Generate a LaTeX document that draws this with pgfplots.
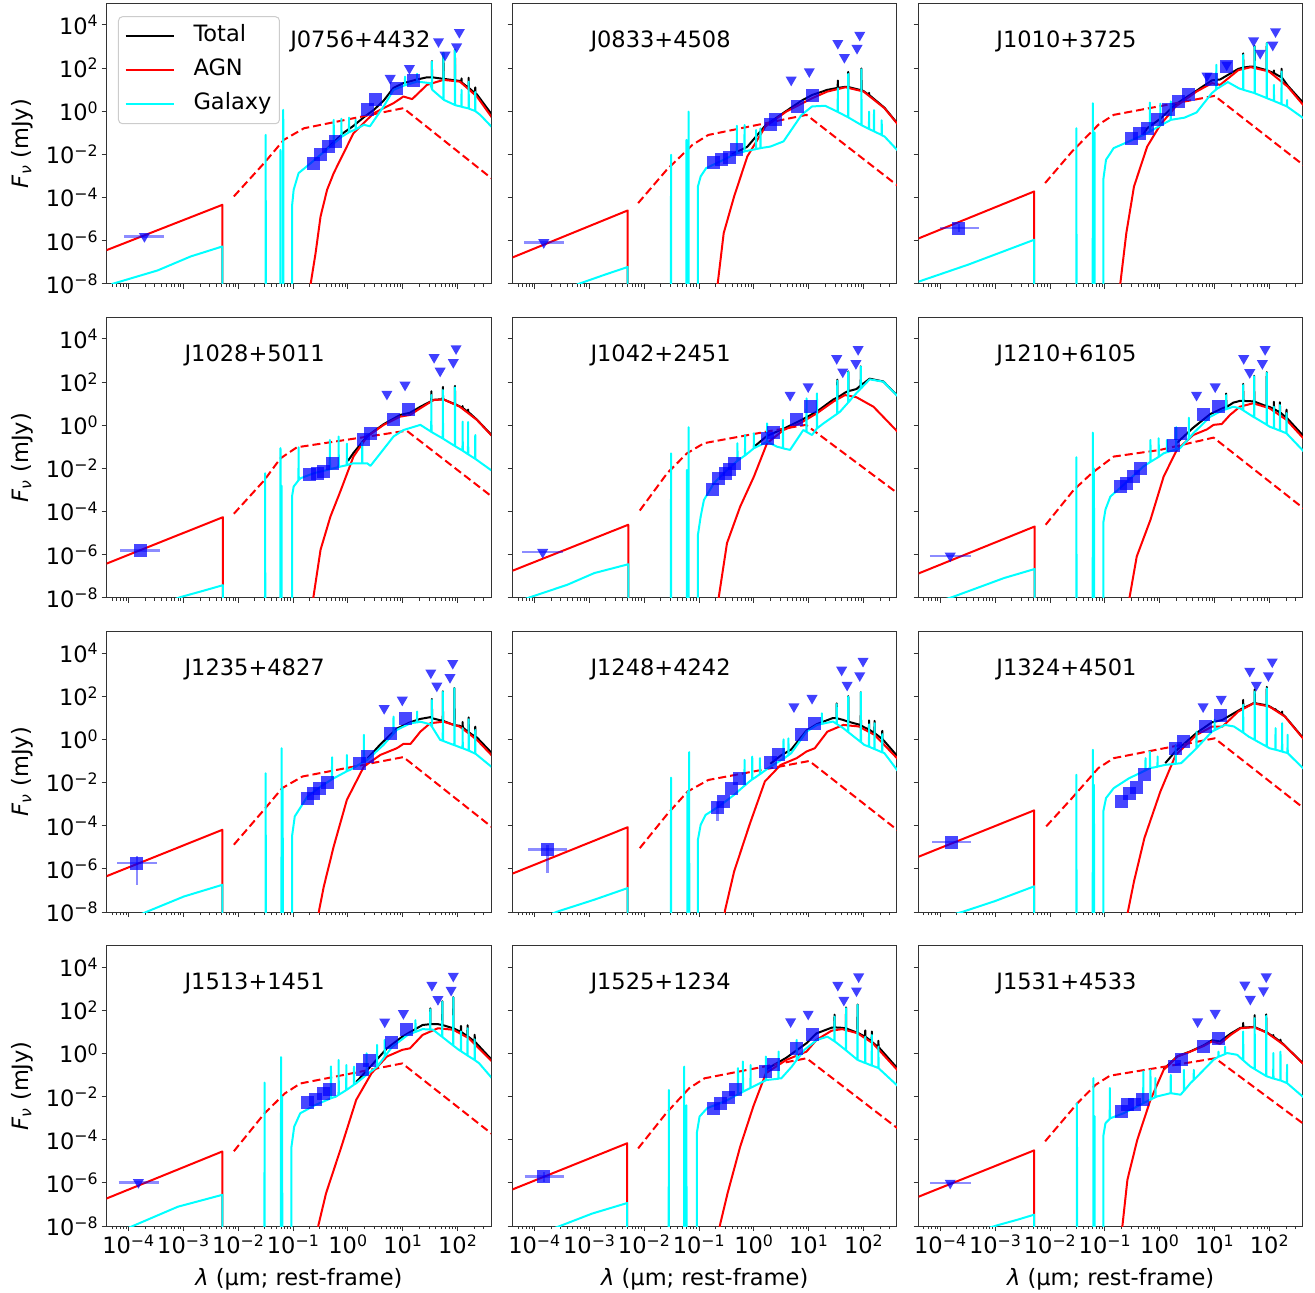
\documentclass[border=0pt]{standalone}
\usepackage{fontspec}
\setmainfont{DejaVu Sans}
\usepackage{pgfplots}
\pgfplotsset{compat=1.18}
\definecolor{mcyan}{RGB}{0,255,255}
\definecolor{mred}{RGB}{255,0,0}
\definecolor{mblue}{RGB}{0,0,255}
\tikzset{
 tot/.style={black, line width=2bp, line join=round},
 agn/.style={mred, line width=2bp, line join=round},
 gal/.style={mcyan, line width=2bp, line join=round},
 agnd/.style={mred, line width=2bp, dash pattern=on 8bp off 4bp},
 sq/.style={only marks, mark=square*, mark size=6.5bp, color=mblue, mark options={draw opacity=0, fill opacity=0.72}},
 tri/.style={only marks, mark=triangle*, mark size=6.4bp, color=mblue, mark options={rotate=180, draw opacity=0, fill opacity=0.75}},
 xb/.style={color=mblue, opacity=0.45, line width=2.5bp},
}
\pgfplotsset{
 panel/.style={scale only axis, width=384.3bp, height=280.5bp, anchor=north west,
  xmin=-4.398, xmax=2.607, ymin=-8, ymax=5,
  axis line style={black!80, line width=1bp},
  tick align=outside, xtick pos=bottom, ytick pos=left,
  xtick={-4,...,2}, ytick={-8,-6,...,4},
  minor xtick={-4.301,-4.222,-4.155,-4.097,-4.046,-3.699,-3.523,-3.398,-3.301,-3.222,-3.155,-3.097,-3.046,-2.699,-2.523,-2.398,-2.301,-2.222,-2.155,-2.097,-2.046,-1.699,-1.523,-1.398,-1.301,-1.222,-1.155,-1.097,-1.046,-0.699,-0.523,-0.398,-0.301,-0.222,-0.155,-0.097,-0.046,0.301,0.477,0.602,0.699,0.778,0.845,0.903,0.954,1.301,1.477,1.602,1.699,1.778,1.845,1.903,1.954,2.301,2.477},
  major tick length=5bp, minor tick length=3bp,
  every major tick/.style={black!80, line width=1bp},
  every minor tick/.style={black!80, line width=0.8bp},
  xticklabels={}, yticklabels={},
  clip mode=individual,
 },
 ylab/.style={yticklabels={10\textsuperscript{−8},10\textsuperscript{−6},10\textsuperscript{−4},10\textsuperscript{−2},10\textsuperscript{0},10\textsuperscript{2},10\textsuperscript{4}},
  ylabel={\textit{F}\textsubscript{\textit{ν}} (mJy)}, ylabel style={at={(axis description cs:-0.220,0.5)}, anchor=center}},
 xlab/.style={xticklabels={10\textsuperscript{−4},10\textsuperscript{−3},10\textsuperscript{−2},10\textsuperscript{−1},10\textsuperscript{0},10\textsuperscript{1},10\textsuperscript{2}},
  xlabel={\textit{λ} (µm; rest-frame)}, xlabel style={at={(axis description cs:0.5,-0.188)}, anchor=center}},
}
\begin{document}
\begin{tikzpicture}[font=\fontsize{22.6}{27}\selectfont]
\path[use as bounding box] (0,0) rectangle (1315bp,-1293bp);
% ---------------- Panel 1: J0756+4432
\begin{axis}[panel, ylab, at={(106.7bp,-3.3bp)},
 legend style={at={(axis description cs:0.0294,0.954)}, anchor=north west, draw=black!20, line width=1bp, rounded corners=4bp, fill=white, fill opacity=0.8, draw opacity=1, text opacity=1, inner xsep=6bp, inner ysep=7bp, row sep=9bp, nodes={inner sep=2bp, text height=16bp, text depth=5bp}, /tikz/every odd column/.append style={column sep=17bp}},
 legend cell align=left,
 legend image code/.code={\draw[#1] (0bp,0bp) -- (48bp,0bp);}]
\addlegendimage{tot}\addlegendentry{Total}
\addlegendimage{agn}\addlegendentry{AGN}
\addlegendimage{gal}\addlegendentry{Galaxy}
\addplot[tot] coordinates {(-0.40,-1.78)(-0.08,-1.00)(0.10,-0.68)(0.29,-0.28)(0.47,0.06)(0.65,0.49)(0.83,1.08)(1.01,1.30)(1.26,1.47)(1.44,1.57)(1.527,1.57)(1.53,2.32)(1.533,1.57)(1.737,1.50)(1.74,2.70)(1.743,1.50)(1.947,1.43)(1.95,2.85)(1.953,1.43)(2.04,1.40)(2.067,1.33)(2.07,1.52)(2.073,1.33)(2.197,1.08)(2.20,1.55)(2.203,1.08)(2.317,0.83)(2.32,1.10)(2.323,0.83)(2.35,0.78)(2.62,-0.15)};
\addplot[agn] coordinates {(-4.42,-6.46)(-2.29,-4.34)(-2.29,-9)};
\addplot[agn] coordinates {(-0.70,-9)(-0.68,-8)(-0.59,-6.57)(-0.50,-4.88)(-0.38,-3.64)(-0.26,-2.87)(0.10,-1.02)(0.47,-0.09)(0.83,0.37)(1.01,0.68)(1.17,0.56)(1.44,1.22)(1.74,1.45)(2.04,1.37)(2.35,0.68)(2.62,-0.28)};
\addplot[agnd] coordinates {(-2.08,-3.95)(-1.53,-2.41)(-1.17,-1.33)(-0.80,-0.79)(1.01,0.14)(2.62,-3.12)};
\addplot[gal] coordinates {(-4.42,-8.3)(-4.29,-8.0)(-3.47,-7.38)(-2.865,-6.73)(-2.29,-6.27)(-2.29,-9)};
\addplot[gal] coordinates {(-1.503,-9)(-1.50,-1.10)(-1.497,-9)(-1.233,-9)(-1.23,-1.79)(-1.227,-9)(-1.183,-9)(-1.18,0.06)(-1.177,-9)(-1.02,-9)(-1.02,-4.41)(-0.99,-3.64)(-0.90,-2.87)(-0.68,-2.41)(-0.40,-1.80)(-0.263,-1.50)(-0.26,-0.40)(-0.257,-1.49)(-0.123,-1.20)(-0.12,-0.35)(-0.117,-1.19)(0.017,-0.98)(0.02,-0.30)(0.023,-0.97)(0.137,-0.85)(0.14,-0.40)(0.143,-0.84)(0.29,-0.63)(0.40,-0.70)(0.65,0.22)(0.83,0.99)(1.037,1.20)(1.04,1.60)(1.043,1.20)(1.257,1.37)(1.26,1.73)(1.263,1.37)(1.50,1.30)(1.527,1.05)(1.53,2.30)(1.533,1.0)(1.737,0.55)(1.74,2.69)(1.743,0.53)(1.947,0.29)(1.95,2.84)(1.953,0.28)(2.067,0.21)(2.07,0.99)(2.073,0.20)(2.197,0.13)(2.20,1.37)(2.203,0.12)(2.317,0.01)(2.32,0.90)(2.323,0.00)(2.41,-0.17)(2.62,-0.73)};
\addplot[xb] coordinates {(-4.08,-5.80)(-3.35,-5.80)};
\addplot[tri] coordinates {(-3.71,-5.80)};
\addplot[sq] coordinates {(-0.62,-2.41)(-0.50,-2.02)(-0.35,-1.64)(-0.23,-1.40)(0.35,0.06)(0.50,0.52)(0.89,1.06)(1.20,1.44)};
\addplot[tri] coordinates {(0.77,1.53)(1.12,1.99)(1.65,3.23)(1.77,2.61)(1.98,2.99)(2.03,3.66)};
\node[anchor=base] at (rel axis cs:0.660,0.842) {J0756+4432};
\end{axis}
% ---------------- Panel 2: J0833+4508
\begin{axis}[panel, at={(512.6bp,-3.3bp)}]
\addplot[tot] coordinates {(-0.40,-2.0)(-0.12,-1.65)(0.21,-0.66)(0.59,0.01)(0.87,0.49)(1.06,0.75)(1.34,0.99)(1.527,1.08)(1.53,1.42)(1.533,1.08)(1.67,1.13)(1.717,1.12)(1.72,1.82)(1.723,1.12)(1.957,0.97)(1.96,1.98)(1.963,0.97)(2.00,0.93)(2.097,0.75)(2.10,0.85)(2.103,0.75)(2.38,0.16)(2.62,-0.58)};
\addplot[agn] coordinates {(-4.42,-6.80)(-2.30,-4.60)(-2.30,-9)};
\addplot[agn] coordinates {(-0.68,-9)(-0.66,-8)(-0.55,-5.65)(-0.36,-3.95)(-0.12,-2.10)(0.21,-0.71)(0.59,-0.02)(1.06,0.60)(1.34,0.91)(1.67,1.11)(2.00,0.91)(2.38,0.14)(2.62,-0.60)};
\addplot[agnd] coordinates {(-2.11,-4.26)(-1.59,-2.72)(-1.12,-1.56)(-0.83,-1.10)(0.96,-0.17)(2.62,-3.45)};
\addplot[gal] coordinates {(-3.40,-8.25)(-3.19,-8.0)(-2.72,-7.58)(-2.30,-7.22)(-2.30,-9)};
\addplot[gal] coordinates {(-1.513,-9)(-1.51,-2.02)(-1.507,-9)(-1.233,-9)(-1.23,-1.33)(-1.227,-9)(-1.193,-9)(-1.19,-0.02)(-1.187,-9)(-1.02,-9)(-1.02,-3.49)(-0.97,-3.02)(-0.87,-2.64)(-0.55,-2.25)(-0.40,-2.06)(-0.313,-1.96)(-0.31,-0.68)(-0.307,-1.95)(-0.173,-1.87)(-0.17,-0.64)(-0.167,-1.86)(0.037,-1.76)(0.04,-0.87)(0.043,-1.75)(0.117,-1.72)(0.12,-0.80)(0.123,-1.71)(0.30,-1.64)(0.54,-1.40)(0.87,-0.17)(1.06,0.22)(1.30,0.25)(1.527,-0.03)(1.53,1.06)(1.533,-0.04)(1.717,-0.28)(1.72,1.73)(1.723,-0.29)(1.957,-0.64)(1.96,1.94)(1.963,-0.65)(2.097,-0.82)(2.10,-0.02)(2.103,-0.83)(2.187,-0.93)(2.19,0.05)(2.193,-0.94)(2.327,-1.10)(2.33,-0.42)(2.333,-1.12)(2.38,-1.17)(2.62,-1.82)};
\addplot[xb] coordinates {(-4.19,-6.08)(-3.46,-6.08)};
\addplot[tri] coordinates {(-3.83,-6.08)};
\addplot[sq] coordinates {(-0.74,-2.38)(-0.59,-2.25)(-0.45,-2.13)(-0.31,-1.79)(0.30,-0.63)(0.40,-0.37)(0.79,0.22)(1.06,0.71)};
\addplot[tri] coordinates {(0.68,1.45)(1.01,1.84)(1.53,3.15)(1.65,2.50)(1.88,2.92)(1.93,3.53)};
\node[anchor=base] at (rel axis cs:0.385,0.842) {J0833+4508};
\end{axis}
% ---------------- Panel 3: J1010+3725
\begin{axis}[panel, at={(918.5bp,-3.3bp)}]
\addplot[tot] coordinates {(-0.30,-1.08)(-0.23,-0.79)(0.01,-0.35)(0.29,0.32)(0.67,0.95)(0.95,1.43)(1.10,1.47)(1.43,1.96)(1.517,2.02)(1.52,2.68)(1.523,2.02)(1.66,2.07)(1.727,2.05)(1.73,3.02)(1.733,2.05)(1.947,1.90)(1.95,3.16)(1.953,1.90)(1.99,1.86)(2.077,1.76)(2.08,1.89)(2.083,1.76)(2.217,1.57)(2.22,1.97)(2.223,1.57)(2.33,1.19)(2.62,0.37)};
\addplot[agn] coordinates {(-4.42,-5.92)(-2.29,-3.72)(-2.29,-9)};
\addplot[agn] coordinates {(-0.74,-9)(-0.72,-8)(-0.61,-5.65)(-0.47,-3.49)(-0.23,-1.64)(0.01,-0.63)(0.29,0.22)(0.67,0.91)(0.95,1.30)(1.10,1.22)(1.43,1.90)(1.66,2.04)(1.99,1.84)(2.33,1.14)(2.62,0.27)};
\addplot[agnd] coordinates {(-2.09,-3.33)(-1.60,-1.87)(-1.12,-0.63)(-0.84,-0.17)(1.00,0.71)(2.62,-2.50)};
\addplot[gal] coordinates {(-4.42,-7.92)(-3.49,-7.11)(-2.29,-5.96)(-2.29,-9)};
\addplot[gal] coordinates {(-1.523,-9)(-1.52,-0.79)(-1.517,-9)(-1.223,-9)(-1.22,0.37)(-1.217,-9)(-1.193,-9)(-1.19,-0.98)(-1.187,-9)(-1.03,-9)(-1.03,-3.18)(-0.98,-2.25)(-0.84,-1.71)(-0.56,-1.40)(-0.30,-1.10)(-0.183,-0.95)(-0.18,0.40)(-0.177,-0.94)(0.007,-0.67)(0.01,0.35)(0.013,-0.66)(0.197,-0.41)(0.20,0.45)(0.203,-0.40)(0.45,-0.30)(0.67,-0.06)(0.95,0.84)(1.027,1.00)(1.03,2.15)(1.033,1.02)(1.24,1.35)(1.45,1.05)(1.517,1.00)(1.52,2.61)(1.523,0.99)(1.727,0.84)(1.73,3.00)(1.733,0.83)(1.947,0.61)(1.95,3.15)(1.953,0.60)(2.077,0.48)(2.08,1.22)(2.083,0.47)(2.217,0.33)(2.22,1.84)(2.223,0.32)(2.317,0.22)(2.32,0.52)(2.323,0.21)(2.62,-0.33)};
\addplot[xb] coordinates {(-4.01,-5.42)(-3.30,-5.42)};
\addplot[xb] coordinates {(-3.66,-5.25)(-3.66,-5.62)};
\addplot[sq] coordinates {(-3.66,-5.42)};
\addplot[sq] coordinates {(-0.51,-1.25)(-0.37,-1.02)(-0.23,-0.79)(-0.04,-0.40)(0.15,0.06)(0.34,0.45)(0.53,0.76)(0.95,1.46)(1.22,2.08)};
\addplot[tri] coordinates {(0.86,1.64)(1.22,2.15)(1.71,3.27)(1.83,2.69)(2.06,3.07)(2.11,3.69)};
\node[anchor=base] at (rel axis cs:0.385,0.842) {J1010+3725};
\end{axis}
% ---------------- Panel 4: J1028+5011
\begin{axis}[panel, ylab, at={(106.7bp,-317.4bp)}]
\addplot[tot] coordinates {(0.00,-1.65)(0.10,-1.28)(0.35,-0.50)(0.65,0.05)(0.95,0.48)(1.13,0.58)(1.32,0.86)(1.517,1.12)(1.52,1.58)(1.523,1.12)(1.56,1.18)(1.727,1.21)(1.73,1.78)(1.733,1.21)(1.947,0.98)(1.95,1.83)(1.953,0.98)(2.04,0.87)(2.087,0.80)(2.09,0.89)(2.093,0.80)(2.187,0.62)(2.19,0.73)(2.193,0.62)(2.35,0.26)(2.62,-0.46)};
\addplot[agn] coordinates {(-4.42,-6.43)(-2.28,-4.26)(-2.28,-9)};
\addplot[agn] coordinates {(-0.65,-9)(-0.63,-7.96)(-0.50,-5.77)(-0.32,-4.23)(-0.14,-3.07)(0.10,-1.45)(0.35,-0.52)(0.65,0.02)(0.95,0.40)(1.13,0.48)(1.32,0.79)(1.56,1.17)(1.74,1.20)(2.04,0.86)(2.35,0.25)(2.62,-0.48)};
\addplot[agnd] coordinates {(-2.08,-4.10)(-1.53,-2.56)(-1.23,-1.53)(-0.93,-1.02)(1.07,-0.25)(2.62,-3.30)};
\addplot[gal] coordinates {(-3.30,-8.2)(-3.05,-7.96)(-2.68,-7.70)(-2.28,-7.41)(-2.28,-9)};
\addplot[gal] coordinates {(-1.513,-9)(-1.51,-2.22)(-1.507,-9)(-1.233,-9)(-1.23,-1.06)(-1.227,-9)(-1.213,-9)(-1.21,-2.80)(-1.207,-9)(-1.02,-9)(-1.02,-3.30)(-0.99,-2.84)(-0.903,-2.55)(-0.90,-1.02)(-0.897,-2.53)(-0.86,-2.45)(-0.62,-2.22)(-0.333,-2.04)(-0.33,-0.68)(-0.327,-2.03)(-0.173,-1.94)(-0.17,-0.52)(-0.167,-1.93)(-0.023,-1.85)(-0.02,-0.85)(-0.017,-1.84)(0.10,-1.76)(0.257,-1.76)(0.26,-0.80)(0.263,-1.76)(0.35,-1.76)(0.41,-1.88)(0.59,-1.30)(0.83,-0.52)(1.01,-0.22)(1.32,0.02)(1.517,-0.30)(1.52,1.40)(1.523,-0.31)(1.727,-0.61)(1.73,1.64)(1.733,-0.62)(1.947,-0.96)(1.95,1.76)(1.953,-0.97)(2.087,-1.17)(2.09,0.17)(2.093,-1.18)(2.187,-1.34)(2.19,0.15)(2.193,-1.35)(2.317,-1.55)(2.32,-0.45)(2.323,-1.56)(2.62,-2.10)};
\addplot[xb] coordinates {(-4.15,-5.80)(-3.42,-5.80)};
\addplot[sq] coordinates {(-3.79,-5.80)};
\addplot[sq] coordinates {(-0.70,-2.30)(-0.56,-2.22)(-0.44,-2.15)(-0.29,-1.76)(0.29,-0.68)(0.41,-0.37)(0.83,0.25)(1.11,0.71)};
\addplot[tri] coordinates {(0.71,1.45)(1.04,1.87)(1.57,3.15)(1.68,2.52)(1.92,2.92)(1.97,3.56)};
\node[anchor=base] at (rel axis cs:0.385,0.842) {J1028+5011};
\end{axis}
% ---------------- Panel 5: J1042+2451
\begin{axis}[panel, at={(512.6bp,-317.4bp)}]
\addplot[tot] coordinates {(0.00,-1.0)(0.24,-0.49)(0.54,-0.16)(0.84,0.21)(1.15,0.64)(1.45,1.20)(1.517,1.28)(1.52,2.12)(1.523,1.28)(1.66,1.51)(1.717,1.58)(1.72,2.50)(1.723,1.58)(1.87,1.68)(1.947,1.85)(1.95,2.73)(1.953,1.85)(2.11,2.16)(2.36,2.03)(2.62,1.36)};
\addplot[agn] coordinates {(-4.42,-6.76)(-2.29,-4.61)(-2.29,-9)};
\addplot[agn] coordinates {(-0.66,-9)(-0.64,-7.96)(-0.49,-5.46)(-0.25,-3.77)(0.00,-2.38)(0.24,-0.83)(0.54,-0.22)(0.84,0.09)(1.15,0.56)(1.45,1.10)(1.66,1.40)(1.87,1.30)(2.18,0.86)(2.62,-0.30)};
\addplot[agnd] coordinates {(-2.08,-3.95)(-1.58,-2.22)(-1.22,-1.30)(-0.91,-0.83)(0.24,-0.29)(0.95,0.02)(2.62,-3.15)};
\addplot[gal] coordinates {(-4.42,-8.28)(-4.07,-7.96)(-3.40,-7.39)(-2.91,-6.85)(-2.29,-6.44)(-2.29,-9)};
\addplot[gal] coordinates {(-1.513,-9)(-1.51,-1.30)(-1.507,-9)(-1.223,-9)(-1.22,-2.07)(-1.217,-9)(-1.193,-9)(-1.19,-0.09)(-1.187,-9)(-1.02,-9)(-1.02,-5.08)(-0.97,-4.23)(-0.91,-3.46)(-0.73,-2.69)(-0.49,-2.07)(-0.303,-1.65)(-0.30,-0.83)(-0.297,-1.64)(-0.163,-1.40)(-0.16,-0.45)(-0.157,-1.39)(-0.003,-1.07)(0.00,-0.37)(0.003,-1.06)(0.237,-0.77)(0.24,0.09)(0.243,-0.77)(0.42,-0.99)(0.527,-1.06)(0.53,0.25)(0.533,-1.07)(0.66,-1.14)(0.90,-0.22)(0.957,-0.30)(0.96,1.25)(0.963,-0.31)(1.06,-0.45)(1.147,-0.15)(1.15,1.48)(1.153,-0.14)(1.27,0.09)(1.517,0.53)(1.52,2.07)(1.523,0.54)(1.57,0.63)(1.717,1.05)(1.72,2.48)(1.723,1.06)(1.81,1.33)(1.947,1.70)(1.95,2.72)(1.953,1.71)(2.11,2.13)(2.36,2.02)(2.62,1.35)};
\addplot[xb] coordinates {(-4.22,-5.88)(-3.48,-5.88)};
\addplot[tri] coordinates {(-3.85,-5.88)};
\addplot[sq] coordinates {(-0.75,-2.96)(-0.64,-2.45)(-0.52,-2.25)(-0.44,-2.07)(-0.35,-1.76)(0.24,-0.60)(0.36,-0.34)(0.77,0.25)(1.03,0.86)};
\addplot[tri] coordinates {(0.66,1.40)(0.99,1.79)(1.51,3.10)(1.62,2.48)(1.86,2.87)(1.90,3.52)};
\node[anchor=base] at (rel axis cs:0.385,0.842) {J1042+2451};
\end{axis}
% ---------------- Panel 6: J1210+6105
\begin{axis}[panel, at={(918.5bp,-317.4bp)}]
\addplot[tot] coordinates {(0.31,-0.82)(0.61,-0.11)(0.92,0.52)(1.16,0.81)(1.207,0.84)(1.21,1.47)(1.213,0.84)(1.34,1.05)(1.46,1.13)(1.517,1.13)(1.52,1.92)(1.523,1.13)(1.70,1.11)(1.717,1.10)(1.72,2.29)(1.723,1.10)(1.947,0.88)(1.95,2.46)(1.953,0.88)(2.00,0.85)(2.077,0.75)(2.08,1.09)(2.083,0.75)(2.187,0.60)(2.19,1.07)(2.193,0.60)(2.307,0.35)(2.31,0.73)(2.313,0.35)(2.62,-0.50)};
\addplot[agn] coordinates {(-4.42,-6.89)(-2.28,-4.69)(-2.28,-9)};
\addplot[agn] coordinates {(-0.57,-9)(-0.55,-7.96)(-0.42,-6.08)(-0.17,-4.38)(0.07,-2.38)(0.31,-1.14)(0.61,-0.45)(0.86,-0.19)(0.98,0.02)(1.13,0.06)(1.28,0.48)(1.46,0.86)(1.70,1.02)(2.00,0.79)(2.31,0.25)(2.62,-0.61)};
\addplot[agnd] coordinates {(-2.08,-4.61)(-1.57,-3.0)(-1.24,-2.22)(-0.84,-1.45)(0.01,-1.14)(0.98,-0.57)(2.62,-3.85)};
\addplot[gal] coordinates {(-4.20,-8.3)(-3.78,-7.96)(-3.33,-7.54)(-2.84,-7.08)(-2.28,-6.66)(-2.28,-9)};
\addplot[gal] coordinates {(-1.523,-9)(-1.52,-1.48)(-1.517,-9)(-1.223,-9)(-1.22,-0.34)(-1.217,-9)(-1.203,-9)(-1.20,-2.0)(-1.197,-9)(-1.03,-9)(-1.03,-4.52)(-0.99,-3.90)(-0.90,-3.30)(-0.66,-2.76)(-0.30,-1.91)(-0.173,-1.70)(-0.17,-0.68)(-0.167,-1.69)(-0.023,-1.47)(-0.02,-0.60)(-0.017,-1.46)(0.07,-1.30)(0.127,-1.25)(0.13,-0.68)(0.133,-1.25)(0.297,-1.12)(0.30,-0.09)(0.303,-1.12)(0.37,-1.06)(0.527,-0.62)(0.53,0.35)(0.533,-0.61)(0.61,-0.37)(0.92,0.40)(1.16,0.71)(1.207,0.74)(1.21,1.40)(1.213,0.75)(1.34,0.86)(1.46,0.79)(1.517,0.70)(1.52,1.87)(1.523,0.69)(1.70,0.40)(1.717,0.37)(1.72,2.27)(1.723,0.37)(1.947,0.03)(1.95,2.44)(1.953,0.02)(2.00,-0.06)(2.077,-0.14)(2.08,0.86)(2.083,-0.14)(2.187,-0.25)(2.19,0.94)(2.193,-0.25)(2.307,-0.37)(2.31,0.56)(2.313,-0.38)(2.62,-1.20)};
\addplot[xb] coordinates {(-4.19,-6.05)(-3.45,-6.05)};
\addplot[tri] coordinates {(-3.82,-6.05)};
\addplot[sq] coordinates {(-0.72,-2.84)(-0.61,-2.69)(-0.48,-2.38)(-0.36,-1.99)(0.25,-0.95)(0.38,-0.37)(0.80,0.48)(1.07,0.86)};
\addplot[tri] coordinates {(0.67,1.40)(1.01,1.79)(1.53,3.10)(1.64,2.45)(1.87,2.87)(1.92,3.52)};
\node[anchor=base] at (rel axis cs:0.385,0.842) {J1210+6105};
\end{axis}
% ---------------- Panel 7: J1235+4827
\begin{axis}[panel, ylab, at={(106.7bp,-631.5bp)}]
\addplot[tot] coordinates {(0.35,-0.90)(0.59,-0.23)(0.89,0.50)(1.14,0.80)(1.32,0.95)(1.50,1.03)(1.527,1.00)(1.53,1.87)(1.533,0.98)(1.727,0.86)(1.73,2.23)(1.733,0.86)(1.937,0.66)(1.94,2.38)(1.943,0.66)(2.04,0.63)(2.087,0.55)(2.09,0.81)(2.093,0.55)(2.197,0.33)(2.20,1.02)(2.203,0.33)(2.317,0.12)(2.32,0.59)(2.323,0.12)(2.35,0.09)(2.62,-0.63)};
\addplot[agn] coordinates {(-4.42,-6.36)(-2.29,-4.19)(-2.29,-9)};
\addplot[agn] coordinates {(-0.55,-9)(-0.53,-7.97)(-0.44,-6.81)(-0.26,-4.96)(-0.02,-2.80)(0.29,-1.26)(0.59,-0.72)(0.89,-0.41)(1.01,-0.21)(1.14,-0.21)(1.32,0.36)(1.50,0.75)(1.74,0.82)(2.04,0.59)(2.35,-0.02)(2.62,-0.74)};
\addplot[agnd] coordinates {(-2.08,-4.88)(-1.53,-3.26)(-1.20,-2.26)(-0.83,-1.72)(1.01,-0.82)(2.62,-4.06)};
\addplot[gal] coordinates {(-4.00,-8.35)(-3.65,-7.97)(-2.99,-7.28)(-2.29,-6.74)(-2.29,-9)};
\addplot[gal] coordinates {(-1.503,-9)(-1.50,-1.57)(-1.497,-9)(-1.213,-9)(-1.21,-0.41)(-1.207,-9)(-1.193,-9)(-1.19,-2.26)(-1.187,-9)(-1.02,-9)(-1.02,-4.50)(-0.97,-3.57)(-0.74,-2.65)(-0.50,-2.19)(-0.293,-1.85)(-0.29,-0.83)(-0.287,-1.84)(-0.023,-1.48)(-0.02,-0.72)(-0.017,-1.47)(0.04,-1.41)(0.287,-1.04)(0.29,0.21)(0.293,-1.03)(0.35,-0.95)(0.65,-0.25)(0.827,0.26)(0.83,1.06)(0.833,0.27)(0.89,0.44)(1.14,0.75)(1.257,0.79)(1.26,1.29)(1.263,0.79)(1.32,0.82)(1.50,0.70)(1.527,0.60)(1.53,1.83)(1.533,0.58)(1.68,-0.02)(1.727,-0.06)(1.73,2.21)(1.733,-0.07)(1.92,-0.25)(1.937,-0.27)(1.94,2.37)(1.943,-0.27)(2.087,-0.41)(2.09,0.52)(2.093,-0.41)(2.17,-0.49)(2.197,-0.52)(2.20,0.93)(2.203,-0.52)(2.317,-0.66)(2.32,0.44)(2.323,-0.66)(2.62,-1.28)};
\addplot[xb] coordinates {(-4.21,-5.73)(-3.48,-5.73)};
\addplot[xb] coordinates {(-3.85,-5.42)(-3.85,-6.74)};
\addplot[sq] coordinates {(-3.85,-5.73)};
\addplot[sq] coordinates {(-0.74,-2.72)(-0.62,-2.52)(-0.51,-2.26)(-0.38,-2.00)(0.21,-1.14)(0.35,-0.79)(0.77,0.29)(1.04,0.98)};
\addplot[tri] coordinates {(0.66,1.44)(0.99,1.83)(1.51,3.09)(1.62,2.48)(1.86,2.88)(1.91,3.53)};
\node[anchor=base] at (rel axis cs:0.385,0.842) {J1235+4827};
\end{axis}
% ---------------- Panel 8: J1248+4242
\begin{axis}[panel, at={(512.6bp,-631.5bp)}]
\addplot[tot] coordinates {(0.30,-1.13)(0.49,-0.75)(0.68,-0.47)(0.96,0.41)(1.15,0.71)(1.44,0.99)(1.507,0.98)(1.51,1.67)(1.513,0.98)(1.63,0.90)(1.717,0.82)(1.72,2.00)(1.723,0.82)(1.91,0.69)(1.947,0.64)(1.95,2.19)(1.953,0.64)(2.097,0.45)(2.10,0.88)(2.103,0.45)(2.197,0.29)(2.20,0.86)(2.203,0.29)(2.337,0.02)(2.34,0.40)(2.343,0.02)(2.62,-0.79)};
\addplot[agn] coordinates {(-4.42,-6.24)(-2.30,-4.07)(-2.30,-9)};
\addplot[agn] coordinates {(-0.55,-9)(-0.53,-7.97)(-0.36,-6.12)(-0.08,-3.96)(0.20,-1.95)(0.49,-1.18)(0.78,-0.87)(0.96,-0.56)(1.11,-0.41)(1.34,0.36)(1.63,0.67)(1.91,0.60)(2.20,0.21)(2.62,-0.90)};
\addplot[agnd] coordinates {(-2.08,-5.04)(-1.59,-3.50)(-1.21,-2.42)(-0.83,-1.88)(1.01,-1.00)(2.62,-4.21)};
\addplot[gal] coordinates {(-4.00,-8.4)(-3.57,-7.97)(-2.91,-7.43)(-2.30,-6.89)(-2.30,-9)};
\addplot[gal] coordinates {(-1.513,-9)(-1.51,-1.77)(-1.507,-9)(-1.213,-9)(-1.21,-2.42)(-1.207,-9)(-1.183,-9)(-1.18,-0.59)(-1.177,-9)(-1.02,-9)(-1.02,-4.65)(-0.97,-3.96)(-0.88,-3.50)(-0.64,-3.11)(-0.36,-2.57)(-0.173,-2.15)(-0.17,-0.95)(-0.167,-2.14)(-0.08,-1.95)(-0.033,-1.86)(-0.03,-0.80)(-0.027,-1.85)(0.107,-1.62)(0.11,-0.87)(0.113,-1.61)(0.30,-1.26)(0.537,-0.90)(0.54,0.00)(0.543,-0.89)(0.627,-0.74)(0.63,0.05)(0.633,-0.73)(0.68,-0.64)(0.96,0.36)(1.15,0.67)(1.237,0.72)(1.24,1.21)(1.243,0.72)(1.44,0.83)(1.507,0.72)(1.51,1.63)(1.513,0.71)(1.63,0.52)(1.717,0.34)(1.72,1.98)(1.723,0.33)(1.947,-0.12)(1.95,2.18)(1.953,-0.13)(2.01,-0.25)(2.097,-0.34)(2.10,0.70)(2.103,-0.34)(2.197,-0.45)(2.20,0.75)(2.203,-0.45)(2.337,-0.60)(2.34,0.24)(2.343,-0.60)(2.38,-0.64)(2.62,-1.45)};
\addplot[xb] coordinates {(-4.12,-5.11)(-3.40,-5.11)};
\addplot[xb] coordinates {(-3.76,-4.88)(-3.76,-6.20)};
\addplot[sq] coordinates {(-3.76,-5.11)};
\addplot[xb] coordinates {(-0.66,-2.90)(-0.66,-3.80)};
\addplot[sq] coordinates {(-0.66,-3.16)(-0.55,-2.88)(-0.40,-2.26)(-0.26,-1.80)(0.30,-1.06)(0.45,-0.69)(0.87,0.24)(1.11,0.75)};
\addplot[tri] coordinates {(0.73,1.52)(1.06,1.91)(1.60,3.22)(1.70,2.52)(1.93,2.96)(1.99,3.63)};
\node[anchor=base] at (rel axis cs:0.385,0.842) {J1248+4242};
\end{axis}
% ---------------- Panel 9: J1324+4501
\begin{axis}[panel, at={(918.5bp,-631.5bp)}]
\addplot[tot] coordinates {(0.10,-1.1)(0.29,-0.54)(0.67,0.30)(0.95,0.79)(1.14,0.90)(1.43,1.33)(1.517,1.45)(1.52,1.83)(1.523,1.45)(1.71,1.68)(1.727,1.68)(1.73,2.32)(1.733,1.68)(1.947,1.58)(1.95,2.43)(1.953,1.58)(2.00,1.53)(2.107,1.37)(2.11,1.40)(2.113,1.37)(2.227,1.17)(2.23,1.29)(2.233,1.17)(2.28,1.07)(2.62,0.04)};
\addplot[agn] coordinates {(-4.42,-5.46)(-2.29,-3.29)(-2.29,-9)};
\addplot[agn] coordinates {(-0.60,-9)(-0.58,-7.97)(-0.47,-6.58)(-0.28,-4.57)(0.01,-2.42)(0.29,-0.72)(0.67,0.21)(0.95,0.59)(1.14,0.59)(1.43,1.29)(1.71,1.67)(2.00,1.52)(2.28,1.06)(2.62,0.02)};
\addplot[agnd] coordinates {(-2.07,-4.03)(-1.60,-2.72)(-1.12,-1.33)(-0.84,-0.87)(1.00,0.05)(2.62,-3.18)};
\addplot[gal] coordinates {(-4.00,-8.3)(-3.57,-7.97)(-3.01,-7.50)(-2.29,-6.81)(-2.29,-9)};
\addplot[gal] coordinates {(-1.523,-9)(-1.52,-1.64)(-1.517,-9)(-1.223,-9)(-1.22,-0.48)(-1.217,-9)(-1.203,-9)(-1.20,-2.10)(-1.197,-9)(-1.03,-9)(-1.03,-3.34)(-0.98,-2.72)(-0.84,-2.26)(-0.56,-1.80)(-0.263,-1.44)(-0.26,-0.87)(-0.257,-1.43)(-0.183,-1.33)(-0.18,-0.56)(-0.177,-1.33)(-0.043,-1.27)(-0.04,-0.79)(-0.037,-1.26)(0.10,-1.18)(0.287,-1.13)(0.29,-0.26)(0.293,-1.13)(0.39,-1.10)(0.667,-0.42)(0.67,0.36)(0.673,-0.40)(0.95,0.36)(0.997,0.42)(1.00,0.91)(1.003,0.43)(1.19,0.67)(1.35,0.60)(1.517,0.32)(1.52,1.61)(1.523,0.31)(1.62,0.13)(1.727,-0.02)(1.73,2.21)(1.733,-0.03)(1.947,-0.33)(1.95,2.37)(1.953,-0.34)(2.00,-0.41)(2.107,-0.48)(2.11,0.52)(2.113,-0.48)(2.227,-0.56)(2.23,0.75)(2.233,-0.57)(2.327,-0.63)(2.33,0.21)(2.333,-0.64)(2.62,-1.36)};
\addplot[xb] coordinates {(-4.15,-4.76)(-3.44,-4.76)};
\addplot[sq] coordinates {(-3.79,-4.76)};
\addplot[sq] coordinates {(-0.70,-2.88)(-0.56,-2.49)(-0.42,-2.23)(-0.27,-1.64)(0.29,-0.44)(0.44,-0.10)(0.84,0.59)(1.10,1.10)};
\addplot[tri] coordinates {(0.79,1.52)(1.12,1.87)(1.64,3.17)(1.76,2.52)(1.98,2.96)(2.05,3.60)};
\node[anchor=base] at (rel axis cs:0.385,0.842) {J1324+4501};
\end{axis}
% ---------------- Panel 10: J1513+1451
\begin{axis}[panel, ylab, xlab, at={(106.7bp,-945.6bp)}]
\addplot[tot] coordinates {(0.15,-1.32)(0.43,-0.55)(0.71,0.24)(0.99,0.78)(1.13,0.99)(1.36,1.32)(1.497,1.36)(1.50,2.09)(1.503,1.36)(1.64,1.36)(1.717,1.32)(1.72,2.42)(1.723,1.32)(1.917,1.17)(1.92,2.61)(1.923,1.17)(2.057,1.00)(2.06,1.28)(2.063,1.00)(2.177,0.80)(2.18,1.31)(2.183,0.80)(2.307,0.55)(2.31,0.87)(2.313,0.55)(2.62,-0.29)};
\addplot[agn] coordinates {(-4.42,-6.74)(-2.29,-4.54)(-2.29,-9)};
\addplot[agn] coordinates {(-0.56,-9)(-0.54,-7.97)(-0.40,-6.48)(-0.12,-4.32)(0.15,-2.15)(0.43,-0.91)(0.71,-0.14)(0.99,0.17)(1.13,0.24)(1.36,0.86)(1.64,1.17)(1.92,1.10)(2.20,0.71)(2.62,-0.36)};
\addplot[agnd] coordinates {(-2.08,-4.53)(-1.52,-2.77)(-1.15,-1.85)(-0.87,-1.39)(0.99,-0.46)(2.62,-3.72)};
\addplot[gal] coordinates {(-4.20,-8.3)(-3.90,-7.97)(-3.10,-7.10)(-2.29,-6.55)(-2.29,-9)};
\addplot[gal] coordinates {(-1.523,-9)(-1.52,-1.35)(-1.517,-9)(-1.223,-9)(-1.22,-0.17)(-1.217,-9)(-1.203,-9)(-1.20,-2.0)(-1.197,-9)(-1.03,-9)(-1.03,-4.32)(-0.98,-3.39)(-0.87,-2.77)(-0.59,-2.38)(-0.313,-2.08)(-0.31,-0.60)(-0.307,-2.07)(-0.22,-2.00)(-0.173,-1.92)(-0.17,-0.30)(-0.167,-1.91)(-0.033,-1.70)(-0.03,-0.53)(-0.027,-1.69)(0.107,-1.45)(0.11,-0.61)(0.113,-1.44)(0.15,-1.38)(0.337,-0.99)(0.34,0.01)(0.343,-0.98)(0.527,-0.62)(0.53,0.40)(0.533,-0.61)(0.667,-0.15)(0.67,0.63)(0.673,-0.13)(0.81,0.32)(1.09,0.86)(1.227,1.00)(1.23,1.55)(1.233,1.00)(1.36,1.13)(1.497,1.11)(1.50,2.05)(1.503,1.11)(1.55,1.10)(1.717,0.77)(1.72,2.40)(1.723,0.76)(1.917,0.37)(1.92,2.60)(1.923,0.36)(2.02,0.17)(2.057,0.11)(2.06,1.02)(2.063,0.10)(2.177,-0.09)(2.18,1.17)(2.183,-0.10)(2.307,-0.30)(2.31,0.66)(2.313,-0.31)(2.39,-0.45)(2.62,-1.13)};
\addplot[xb] coordinates {(-4.18,-5.97)(-3.45,-5.97)};
\addplot[tri] coordinates {(-3.82,-5.97)};
\addplot[sq] coordinates {(-0.73,-2.27)(-0.59,-2.12)(-0.45,-1.87)(-0.34,-1.69)(0.27,-0.76)(0.39,-0.33)(0.79,0.52)(1.07,1.13)};
\addplot[tri] coordinates {(0.67,1.47)(1.01,1.86)(1.53,3.17)(1.64,2.51)(1.88,2.94)(1.92,3.59)};
\node[anchor=base] at (rel axis cs:0.385,0.842) {J1513+1451};
\end{axis}
% ---------------- Panel 11: J1525+1234
\begin{axis}[panel, xlab, at={(512.6bp,-945.6bp)}]
\addplot[tot] coordinates {(0.22,-0.74)(0.59,-0.20)(0.96,0.48)(1.14,0.93)(1.42,1.20)(1.467,1.21)(1.47,1.80)(1.473,1.21)(1.61,1.19)(1.677,1.16)(1.68,2.14)(1.683,1.16)(1.887,0.96)(1.89,2.27)(1.893,0.96)(2.027,0.78)(2.03,1.07)(2.033,0.78)(2.147,0.55)(2.15,1.02)(2.153,0.55)(2.17,0.50)(2.267,0.30)(2.27,0.59)(2.273,0.30)(2.62,-0.70)};
\addplot[agn] coordinates {(-4.42,-6.32)(-2.31,-4.16)(-2.31,-9)};
\addplot[agn] coordinates {(-0.64,-9)(-0.62,-7.97)(-0.48,-6.48)(-0.25,-4.32)(-0.01,-2.45)(0.22,-0.91)(0.59,-0.30)(0.96,0.09)(1.14,0.63)(1.42,1.06)(1.61,1.13)(1.89,0.94)(2.17,0.47)(2.62,-0.78)};
\addplot[agnd] coordinates {(-2.11,-4.40)(-1.60,-2.77)(-1.18,-1.61)(-0.90,-1.15)(0.96,-0.22)(2.62,-3.47)};
\addplot[gal] coordinates {(-4.00,-8.45)(-3.51,-7.97)(-2.95,-7.42)(-2.31,-6.93)(-2.31,-9)};
\addplot[gal] coordinates {(-1.553,-9)(-1.55,-1.69)(-1.547,-9)(-1.273,-9)(-1.27,-0.61)(-1.267,-9)(-1.233,-9)(-1.23,-2.40)(-1.227,-9)(-1.04,-9)(-1.04,-3.69)(-0.99,-2.92)(-0.85,-2.53)(-0.53,-2.22)(-0.293,-1.90)(-0.29,-0.68)(-0.287,-1.89)(-0.203,-1.78)(-0.20,-0.37)(-0.197,-1.77)(-0.063,-1.60)(-0.06,-0.53)(-0.057,-1.59)(0.217,-1.24)(0.22,-0.14)(0.223,-1.23)(0.447,-1.17)(0.45,0.09)(0.453,-1.16)(0.50,-1.15)(0.69,-0.61)(0.777,-0.31)(0.78,0.63)(0.783,-0.30)(0.92,0.17)(1.15,0.63)(1.34,0.78)(1.467,0.57)(1.47,1.71)(1.473,0.56)(1.52,0.47)(1.677,0.15)(1.68,2.10)(1.683,0.14)(1.887,-0.29)(1.89,2.25)(1.893,-0.30)(2.027,-0.44)(2.03,0.78)(2.033,-0.44)(2.147,-0.56)(2.15,0.86)(2.153,-0.56)(2.267,-0.67)(2.27,0.32)(2.273,-0.68)(2.62,-1.50)};
\addplot[xb] coordinates {(-4.18,-5.70)(-3.46,-5.70)};
\addplot[xb] coordinates {(-3.83,-5.50)(-3.83,-5.95)};
\addplot[sq] coordinates {(-3.83,-5.70)};
\addplot[sq] coordinates {(-0.73,-2.53)(-0.60,-2.30)(-0.47,-2.04)(-0.34,-1.69)(0.22,-0.84)(0.36,-0.53)(0.78,0.24)(1.06,0.86)};
\addplot[tri] coordinates {(0.67,1.48)(0.99,1.83)(1.53,3.17)(1.64,2.48)(1.87,2.91)(1.91,3.56)};
\node[anchor=base] at (rel axis cs:0.385,0.842) {J1525+1234};
\end{axis}
% ---------------- Panel 12: J1531+4533
\begin{axis}[panel, xlab, at={(918.5bp,-945.6bp)}]
\addplot[tot] coordinates {(0.07,-0.73)(0.32,-0.13)(0.56,0.10)(0.80,0.38)(0.95,0.61)(1.10,0.56)(1.29,0.92)(1.47,1.19)(1.517,1.20)(1.52,1.42)(1.523,1.20)(1.71,1.23)(1.727,1.22)(1.73,1.78)(1.733,1.22)(1.937,0.99)(1.94,1.81)(1.943,0.99)(1.95,0.98)(2.067,0.78)(2.07,0.86)(2.073,0.78)(2.197,0.55)(2.20,0.64)(2.203,0.55)(2.26,0.41)(2.62,-0.48)};
\addplot[agn] coordinates {(-4.42,-6.66)(-2.29,-4.49)(-2.29,-9)};
\addplot[agn] coordinates {(-0.70,-9)(-0.68,-7.96)(-0.59,-5.85)(-0.41,-4.00)(-0.17,-2.15)(0.07,-0.76)(0.32,-0.14)(0.56,0.09)(0.80,0.35)(0.95,0.56)(1.10,0.45)(1.29,0.86)(1.47,1.17)(1.71,1.22)(1.95,0.97)(2.26,0.40)(2.62,-0.49)};
\addplot[agnd] coordinates {(-2.09,-4.07)(-1.50,-2.30)(-1.17,-1.45)(-0.91,-1.03)(1.01,-0.22)(2.62,-3.26)};
\addplot[gal] coordinates {(-3.20,-8.15)(-2.96,-7.96)(-2.59,-7.70)(-2.29,-7.47)(-2.29,-9)};
\addplot[gal] coordinates {(-1.513,-9)(-1.51,-2.30)(-1.507,-9)(-1.213,-9)(-1.21,-1.14)(-1.207,-9)(-1.193,-9)(-1.19,-2.90)(-1.187,-9)(-1.03,-9)(-1.03,-3.84)(-0.99,-3.23)(-0.913,-3.03)(-0.91,-1.60)(-0.907,-3.02)(-0.90,-3.0)(-0.65,-2.76)(-0.303,-2.31)(-0.30,-0.83)(-0.297,-2.30)(-0.173,-2.14)(-0.17,-0.76)(-0.167,-2.13)(-0.083,-2.03)(-0.08,-1.14)(-0.077,-2.02)(-0.05,-1.99)(0.197,-1.84)(0.20,-0.99)(0.203,-1.84)(0.38,-1.91)(0.437,-1.74)(0.44,-0.76)(0.443,-1.73)(0.56,-1.37)(0.617,-1.23)(0.62,-0.76)(0.623,-1.22)(0.80,-0.76)(0.98,-0.29)(1.067,-0.15)(1.07,0.09)(1.073,-0.15)(1.187,-0.03)(1.19,0.32)(1.193,-0.02)(1.23,0.02)(1.41,-0.06)(1.517,-0.31)(1.52,1.02)(1.523,-0.32)(1.65,-0.60)(1.727,-0.72)(1.73,1.64)(1.733,-0.73)(1.937,-1.04)(1.94,1.74)(1.943,-1.05)(2.067,-1.16)(2.07,0.02)(2.073,-1.16)(2.197,-1.25)(2.20,0.09)(2.203,-1.25)(2.317,-1.37)(2.32,-0.52)(2.323,-1.38)(2.62,-2.03)};
\addplot[xb] coordinates {(-4.18,-6.00)(-3.44,-6.00)};
\addplot[tri] coordinates {(-3.82,-6.00)};
\addplot[sq] coordinates {(-0.70,-2.69)(-0.59,-2.38)(-0.46,-2.38)(-0.32,-2.15)(0.26,-0.60)(0.40,-0.26)(0.80,0.32)(1.07,0.71)};
\addplot[tri] coordinates {(0.69,1.48)(1.01,1.87)(1.55,3.18)(1.65,2.52)(1.89,2.92)(1.94,3.56)};
\node[anchor=base] at (rel axis cs:0.385,0.842) {J1531+4533};
\end{axis}
\end{tikzpicture}
\end{document}
